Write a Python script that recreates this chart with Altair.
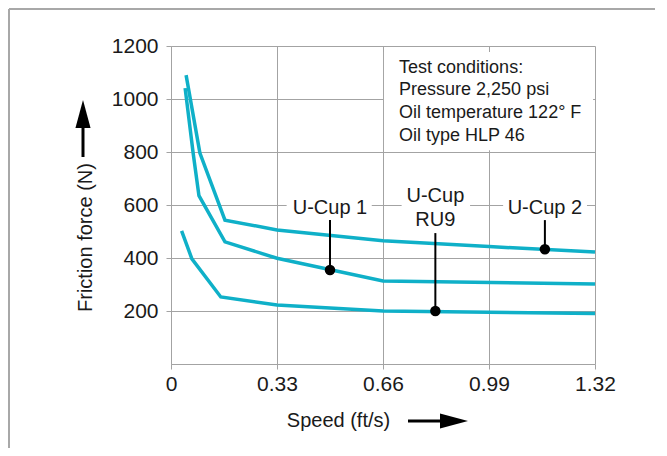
import altair as alt
import pandas as pd

# ---- data ----
speed_ucup2 = [0.047, 0.09, 0.168, 0.33, 0.66, 0.99, 1.32]
force_ucup2 = [1090, 796, 543, 506, 465, 443, 423]
speed_ucup1 = [0.044, 0.069, 0.087, 0.168, 0.33, 0.66, 1.32]
force_ucup1 = [1041, 795, 635, 461, 399, 313, 302]
speed_ru9 = [0.033, 0.065, 0.155, 0.33, 0.66, 1.32]
force_ru9 = [502, 397, 253, 223, 200, 191]

label_names = ["U-Cup 1", "U-Cup\nRU9", "U-Cup 2"]
marker_speed = [0.495, 0.823, 1.164]
marker_force = [355, 200, 433]
leader_top = [543, 494, 543]
label_force = [589, 634, 589]
mask_left = [0.36, 0.718, 1.034]
mask_right = [0.625, 0.931, 1.295]
mask_low = [575, 575, 575]
mask_high = [625, 625, 625]

conditions_lines = ["Test conditions:", "Pressure 2,250 psi",
                    "Oil temperature 122\u00b0 F", "Oil type HLP 46"]
conditions_box = {"speed": [0.663], "speed2": [1.314], "force": [807], "force2": [1177]}
conditions_anchor = {"speed": [0.71], "force": [1152]}

x_ticks = [0, 0.33, 0.66, 0.99, 1.32]
y_ticks = [200, 400, 600, 800, 1000, 1200]

TEAL = "#0fb0c8"
GRID = "#a3a3a3"
FONT = "Liberation Sans"
W, H = 424, 318

rows = []
for name, xs, ys in [("U-Cup 2", speed_ucup2, force_ucup2),
                     ("U-Cup 1", speed_ucup1, force_ucup1),
                     ("U-Cup RU9", speed_ru9, force_ru9)]:
    for i, (a, b) in enumerate(zip(xs, ys)):
        rows.append({"series": name, "speed": a, "force": b, "order": i})
curves = pd.DataFrame(rows)

ann = pd.DataFrame({"label": label_names, "speed": marker_speed, "force": marker_force,
                    "top": leader_top, "lab_y": label_force,
                    "mx1": mask_left, "mx2": mask_right,
                    "m_lo": mask_low, "m_hi": mask_high})

X = alt.X("speed:Q", scale=alt.Scale(domain=[0, 1.32], nice=False, zero=False),
          axis=alt.Axis(values=x_ticks, grid=True, gridColor=GRID, gridWidth=1,
                        domainColor=GRID, tickColor=GRID, tickSize=5,
                        labelFontSize=21, labelFont=FONT, labelColor="#1a1a1a",
                        labelPadding=4, labelFlush=False, labelOverlap=False,
                        labelExpr="datum.value == 0 ? '0' : format(datum.value, '.2f')",
                        title="Speed (ft/s)", titleFont=FONT, titleFontSize=20,
                        titleFontWeight="normal", titleColor="#1a1a1a",
                        titleX=167, titleY=56, titleAlign="center",
                        titleBaseline="middle"))
Y = alt.Y("force:Q", scale=alt.Scale(domain=[0, 1200], nice=False),
          axis=alt.Axis(values=y_ticks, grid=True, gridColor=GRID, gridWidth=1,
                        domainColor=GRID, tickColor=GRID, tickSize=5, format="d",
                        labelFontSize=21, labelFont=FONT, labelColor="#1a1a1a",
                        labelPadding=8, labelOverlap=False,
                        title="Friction force (N)", titleFont=FONT, titleFontSize=20,
                        titleFontWeight="normal", titleColor="#1a1a1a",
                        titleX=-86, titleY=191, titleAngle=-90, titleAlign="center",
                        titleBaseline="middle"))

masks = alt.Chart(ann).mark_rect(color="white").encode(
    x=alt.X("mx1:Q", scale=alt.Scale(domain=[0, 1.32], nice=False)),
    x2="mx2:Q",
    y=alt.Y("m_lo:Q", scale=alt.Scale(domain=[0, 1200], nice=False)),
    y2="m_hi:Q")

box = alt.Chart(pd.DataFrame(conditions_box)).mark_rect(color="white").encode(
    x=X, x2="speed2:Q", y=Y, y2="force2:Q")

lines = alt.Chart(curves).mark_line(color=TEAL, strokeWidth=3.5).encode(
    x=X, y=Y, detail="series:N", order="order:Q")

leaders = alt.Chart(ann).mark_rule(color="black", strokeWidth=2).encode(
    x=X, y=Y, y2="top:Q")

markers = alt.Chart(ann).mark_point(filled=True, color="black", size=110,
                                    opacity=1, strokeWidth=0).encode(x=X, y=Y)

labels = alt.Chart(ann).mark_text(fontSize=20, font=FONT, color="#1a1a1a",
                                  baseline="middle", align="center",
                                  lineBreak="\n", lineHeight=24).encode(
    x=X, y=alt.Y("lab_y:Q"), text="label:N")

cond = alt.Chart(pd.DataFrame(conditions_anchor)).mark_text(
    text=conditions_lines, fontSize=18, font=FONT, color="#1a1a1a",
    align="left", baseline="top", lineHeight=22.7).encode(x=X, y=Y)

one = pd.DataFrame({"d": [0]})
BOTTOM = 84
frame_top = alt.Chart(one).mark_rule(color="#a8a8a8", strokeWidth=2).encode(
    x=alt.value(-162), x2=alt.value(W + 60), y=alt.value(-37))
frame_left = alt.Chart(one).mark_rule(color="#a8a8a8", strokeWidth=2).encode(
    x=alt.value(-162), y=alt.value(-37), y2=alt.value(H + BOTTOM))

yshaft = alt.Chart(one).mark_rule(color="black", strokeWidth=3).encode(
    x=alt.value(-88), y=alt.value(78), y2=alt.value(111))
yhead = alt.Chart(one).mark_point(shape="M0,-1L0.54,1L-0.54,1Z", filled=True,
                                  color="black", size=784, opacity=1,
                                  strokeWidth=0).encode(x=alt.value(-88), y=alt.value(68))
xshaft = alt.Chart(one).mark_rule(color="black", strokeWidth=3).encode(
    x=alt.value(237), x2=alt.value(272), y=alt.value(375))
xhead = alt.Chart(one).mark_point(shape="M1,0L-1,0.54L-1,-0.54Z", filled=True,
                                  color="black", size=784, opacity=1,
                                  strokeWidth=0).encode(x=alt.value(283), y=alt.value(375))

chart = alt.layer(masks, box, lines, leaders, markers, labels, cond,
                  frame_top, frame_left, yshaft, yhead, xshaft, xhead).properties(
    width=W, height=H, autosize="none",
    padding={"left": 163, "top": 38, "right": 60, "bottom": BOTTOM},
    background="white"
).configure_view(stroke=None)

chart.save("out.html", embed_options={"renderer": "svg", "actions": False})
